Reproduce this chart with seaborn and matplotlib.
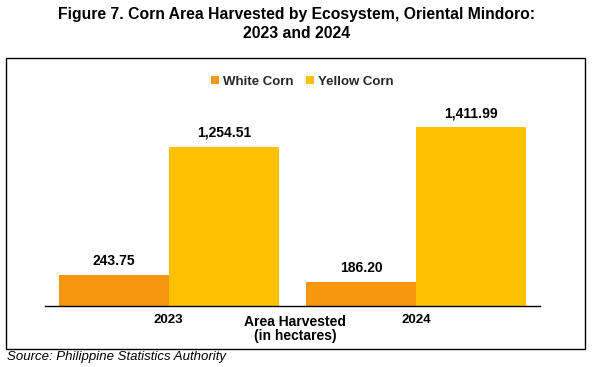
import pandas as pd
import seaborn as sns
from matplotlib import pyplot as plt
from matplotlib.patches import Rectangle

years = ['2023', '2024']
white_corn = [243.75, 186.20]
yellow_corn = [1254.51, 1411.99]
series = ['White Corn', 'Yellow Corn']
colors = ['#F7960F', '#FFC000']

df = pd.DataFrame({
    'year': years * 2,
    'type': [series[0]] * 2 + [series[1]] * 2,
    'area': white_corn + yellow_corn,
})

sns.set_style('white')
plt.rcParams['font.family'] = ['Liberation Sans', 'DejaVu Sans']

fig = plt.figure(figsize=(5.93, 3.67), dpi=100)
W, H = 593, 367
ax = fig.add_axes([45 / W, 1 - 306 / H, 495 / W, 246 / H])

sns.barplot(data=df, x='year', y='area', hue='type', palette=colors,
            width=0.89, gap=0, saturation=1, linewidth=0, ax=ax)

for cont in ax.containers:
    ax.bar_label(cont, labels=[f'{v:,.2f}' for v in cont.datavalues],
                 padding=5, fontsize=10, fontweight='bold', color='black')

ax.set_xlim(-0.5, 1.5)
ax.set_ylim(0, 1940)
ax.set_yticks([])
ax.set_ylabel('')
ax.set_xlabel('')
for s in ['top', 'right', 'left']:
    ax.spines[s].set_visible(False)
ax.spines['bottom'].set_color('black')
ax.spines['bottom'].set_linewidth(1)
ax.tick_params(axis='x', length=0, pad=6)
for t in ax.get_xticklabels():
    t.set_fontweight('bold')
    t.set_fontsize(9.5)
    t.set_color('black')

ax.legend(loc='upper center', bbox_to_anchor=(0.52, 0.985), ncol=2, frameon=False,
          handlelength=0.6, handleheight=0.6, handletextpad=0.3,
          columnspacing=1.0, prop={'weight': 'bold', 'size': 9.5})

fig.text(295 / W, 1 - 329 / H, 'Area Harvested\n(in hectares)', ha='center', va='center',
         fontsize=10, fontweight='bold', linespacing=1.0, color='black')

fig.text(0.5, 1 - 24 / H, 'Figure 7. Corn Area Harvested by Ecosystem, Oriental Mindoro:\n2023 and 2024',
         ha='center', va='center', fontsize=11.3, fontweight='bold', linespacing=1.3, color='black')

fig.text(7 / W, 1 - 357 / H, 'Source: Philippine Statistics Authority', ha='left', va='center',
         fontsize=9.5, style='italic', color='black')

fig.patches.append(Rectangle((6 / W, 1 - 349 / H), 579 / W, 291 / H, transform=fig.transFigure,
                             fill=False, edgecolor='black', linewidth=1.0))

fig.savefig('out.png', dpi=100)
